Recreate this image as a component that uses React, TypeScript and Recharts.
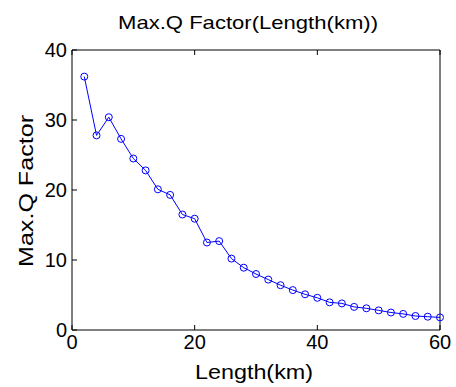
import React from "react";
import { LineChart, Line, XAxis, YAxis, Label } from "recharts";

const lengths = [
  2, 4, 6, 8, 10, 12, 14, 16, 18, 20, 22, 24, 26, 28, 30, 32, 34, 36, 38, 40,
  42, 44, 46, 48, 50, 52, 54, 56, 58, 60,
];
const qFactor = [
  36.2, 27.8, 30.4, 27.3, 24.5, 22.8, 20.1, 19.3, 16.5, 15.9, 12.5, 12.7, 10.2,
  8.9, 8.0, 7.2, 6.4, 5.7, 5.1, 4.6, 3.95, 3.8, 3.3, 3.1, 2.8, 2.5, 2.3, 2.0,
  1.9, 1.8,
];
const xTicks = [0, 20, 40, 60];
const yTicks = [0, 10, 20, 30, 40];

const data = lengths.map((len, i) => ({ len, q: qFactor[i] }));

const font = "'Liberation Sans', Arial, Helvetica, sans-serif";
const tickStyle = { fontSize: 20, fill: "#000", fontFamily: font };

const App = () => {
  return (
    <div style={{ position: "absolute", left: 0, top: 0, background: "#fff" }}>
      <LineChart
        width={456}
        height={387}
        data={data}
        margin={{ top: 0, right: 0, bottom: 0, left: 0 }}
      >
        <XAxis
          dataKey="len"
          type="number"
          domain={[0, 60]}
          ticks={xTicks}
          interval={0}
          height={57}
          stroke="#000"
          tickSize={-5}
          tickMargin={10}
          tick={tickStyle}
        >
          <Label
            content={() => (
              <text
                x={254}
                y={379}
                textAnchor="middle"
                fontSize={20}
                fontFamily={font}
                fill="#000"
                textLength={118}
                lengthAdjust="spacingAndGlyphs"
              >
                Length(km)
              </text>
            )}
          />
        </XAxis>
        <XAxis
          xAxisId="top"
          orientation="top"
          dataKey="len"
          type="number"
          domain={[0, 60]}
          ticks={xTicks}
          height={50}
          stroke="#000"
          tickSize={-5}
          tickFormatter={() => ""}
        >
          <Label
            content={() => (
              <text
                x={248}
                y={29}
                textAnchor="middle"
                fontSize={19}
                fontFamily={font}
                fill="#000"
                textLength={260}
                lengthAdjust="spacingAndGlyphs"
              >
                Max.Q Factor(Length(km))
              </text>
            )}
          />
        </XAxis>
        <YAxis
          type="number"
          domain={[0, 40]}
          ticks={yTicks}
          interval={0}
          width={72}
          stroke="#000"
          tickSize={-5}
          tickMargin={10}
          tick={tickStyle}
        >
          <Label
            content={() => (
              <text
                x={33}
                y={191}
                transform="rotate(-90 33 191)"
                textAnchor="middle"
                fontSize={21}
                fontFamily={font}
                fill="#000"
                textLength={152}
                lengthAdjust="spacingAndGlyphs"
              >
                Max.Q Factor
              </text>
            )}
          />
        </YAxis>
        <YAxis
          yAxisId="right"
          orientation="right"
          type="number"
          domain={[0, 40]}
          ticks={yTicks}
          width={16}
          stroke="#000"
          tickSize={-5}
          tickFormatter={() => ""}
        />
        <Line
          dataKey="q"
          stroke="#0000ff"
          strokeWidth={1}
          dot={{ r: 3.5, stroke: "#0000ff", strokeWidth: 1, fill: "none" }}
          isAnimationActive={false}
        />
      </LineChart>
    </div>
  );
};

export default App;
